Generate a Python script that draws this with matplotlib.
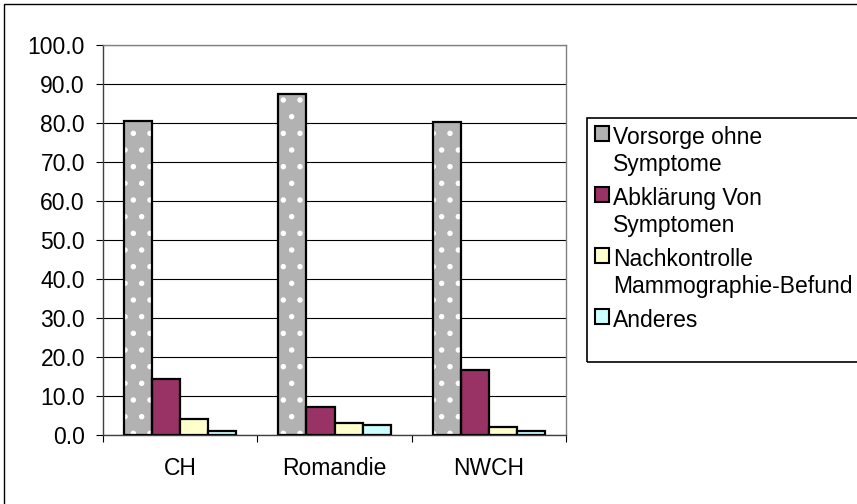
import matplotlib
matplotlib.use("Agg")
import matplotlib.pyplot as plt
from matplotlib.patches import Patch, Rectangle
import numpy as np

plt.rcParams['font.family'] = ['Liberation Sans', 'DejaVu Sans']
plt.rcParams['hatch.linewidth'] = 1.5

categories = ["CH", "Romandie", "NWCH"]
series_names = ["Vorsorge ohne\nSymptome", "Abklärung Von\nSymptomen",
                "Nachkontrolle\nMammographie-Befund", "Anderes"]
vorsorge = [80.6, 87.4, 80.3]
abklaerung = [14.4, 7.3, 16.7]
nachkontrolle = [4.1, 3.0, 2.1]
anderes = [1.1, 2.6, 1.0]
yticks = [0, 10, 20, 30, 40, 50, 60, 70, 80, 90, 100]

series = [vorsorge, abklaerung, nachkontrolle, anderes]
colors = ["#B2B2B2", "#993366", "#FFFFCC", "#CCFFFF"]
FS = 16.5

W, H = 857, 504
fig = plt.figure(figsize=(W / 100, H / 100), dpi=100)
fig.patch.set_facecolor("white")

# outer chart border
fig.patches.append(Rectangle((4 / W, -0.1), 1.2, 1 - 4 / H + 0.1, transform=fig.transFigure,
                             fill=False, edgecolor="black", linewidth=1.0))
# legend border
fig.patches.append(Rectangle((587 / W, 1 - 362 / H), 1.0, (362 - 118) / H,
                             transform=fig.transFigure, fill=False,
                             edgecolor="black", linewidth=1.2, zorder=5))

ax = fig.add_axes([103 / W, 1 - 435 / H, (566 - 103) / W, (435 - 45) / H])
ax.set_xlim(-0.5, 2.5)
ax.set_ylim(0, 100)

x = np.arange(len(categories))
bw = 0.182
offsets = (np.arange(4) - 1.5) * bw
for i, (vals, col) in enumerate(zip(series, colors)):
    pos = x + offsets[i]
    if i == 0:
        ax.bar(pos, vals, width=bw, color=col, edgecolor="white", hatch=".",
               linewidth=0, zorder=3)
        ax.bar(pos, vals, width=bw, facecolor="none", edgecolor="black",
               linewidth=1.6, zorder=4)
    else:
        ax.bar(pos, vals, width=bw, color=col, edgecolor="black", linewidth=1.6, zorder=3)

ax.set_yticks(yticks)
ax.set_yticklabels([f"{v:.1f}" for v in yticks])
ax.yaxis.grid(True, color="black", linewidth=0.8, zorder=0)
ax.set_axisbelow(True)

ax.set_xticks([-0.5, 0.5, 1.5, 2.5])
ax.set_xticklabels([])
ax.set_xticks(x, minor=True)
ax.set_xticklabels(categories, minor=True)
ax.tick_params(axis="x", which="major", length=5, width=0.8, color="black", direction="out")
ax.tick_params(axis="x", which="minor", length=0, pad=16, labelsize=FS)
ax.tick_params(axis="y", length=5, width=0.8, color="black", pad=8, labelsize=FS)

for s in ["top", "right"]:
    ax.spines[s].set_color("#808080")
    ax.spines[s].set_linewidth(1.0)
for s in ["left", "bottom"]:
    ax.spines[s].set_color("#404040")
    ax.spines[s].set_linewidth(1.0)

handles = [Patch(facecolor=c, edgecolor="black", linewidth=1.5) for c in colors]
leg = fig.legend(handles, series_names, loc="upper left",
                 bbox_to_anchor=(587 / W, 1 - 118 / H), bbox_transform=fig.transFigure,
                 fontsize=FS, frameon=False, borderaxespad=0,
                 handlelength=0.6, handleheight=0.6, handletextpad=0.2,
                 labelspacing=0.5, borderpad=0.35)
leg.set_zorder(10)
# align markers with the first line of each label
for col in leg._legend_handle_box.get_children():
    for row in col.get_children():
        row.align = "top"

fig.savefig("out.png", dpi=100)
